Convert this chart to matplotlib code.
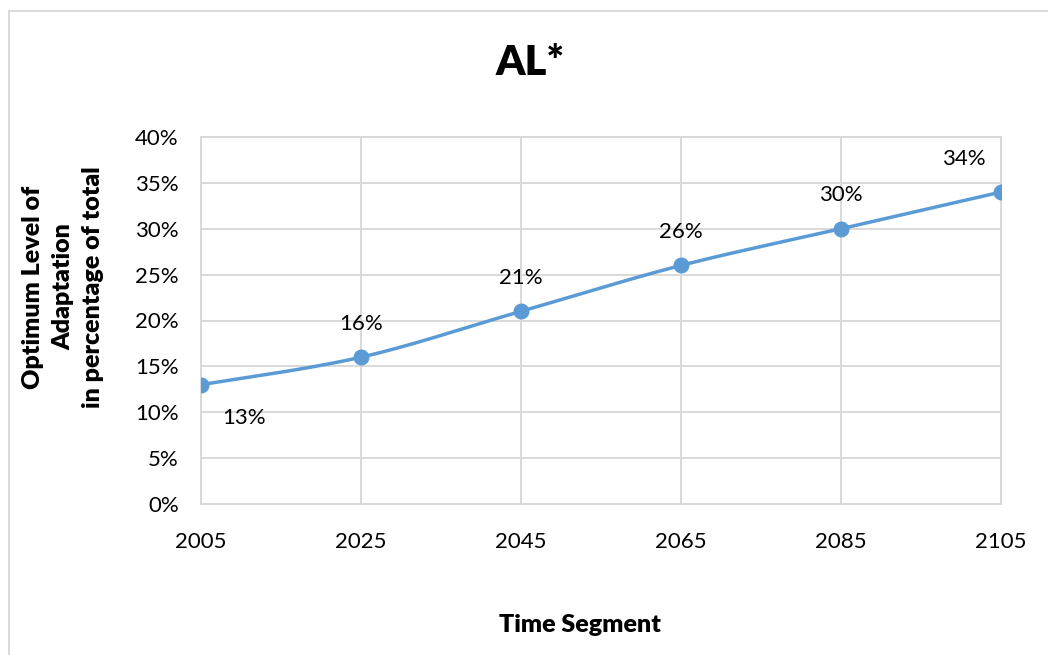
import numpy as np
import matplotlib.pyplot as plt
from matplotlib.patches import Rectangle

plt.rcParams['font.family'] = ['Lato', 'DejaVu Sans']

# chart data
years = [2005, 2025, 2045, 2065, 2085, 2105]
optimum = [0.13, 0.16, 0.21, 0.26, 0.30, 0.34]
labels = ['13%', '16%', '21%', '26%', '30%', '34%']
yticks = [0, 0.05, 0.10, 0.15, 0.20, 0.25, 0.30, 0.35, 0.40]

LINE = '#5B9BD5'
GRID = '#D9D9D9'


def smooth_curve(x, y, n=40):
    # bezier smoothing like a spreadsheet "smoothed line"
    x = np.asarray(x, float)
    y = np.asarray(y, float)
    px, py = [], []
    for i in range(len(x) - 1):
        x0, y0 = (x[i - 1], y[i - 1]) if i > 0 else (x[i], y[i])
        x3, y3 = (x[i + 2], y[i + 2]) if i + 2 < len(x) else (x[i + 1], y[i + 1])
        c1x = x[i] + (x[i + 1] - x0) / 6
        c1y = y[i] + (y[i + 1] - y0) / 6
        c2x = x[i + 1] - (x3 - x[i]) / 6
        c2y = y[i + 1] - (y3 - y[i]) / 6
        t = np.linspace(0, 1, n)
        b0 = (1 - t) ** 3
        b1 = 3 * (1 - t) ** 2 * t
        b2 = 3 * (1 - t) * t ** 2
        b3 = t ** 3
        px.extend(b0 * x[i] + b1 * c1x + b2 * c2x + b3 * x[i + 1])
        py.extend(b0 * y[i] + b1 * c1y + b2 * c2y + b3 * y[i + 1])
    return px, py


W, H = 1048, 655
fig = plt.figure(figsize=(W / 100, H / 100), dpi=100)
ax = fig.add_axes([201 / W, 1 - 504 / H, 800 / W, 367 / H])

sx, sy = smooth_curve(years, optimum)
ax.plot(sx, sy, color=LINE, lw=2.5, zorder=3, solid_capstyle='round')
ax.plot(years, optimum, 'o', color=LINE, ms=10.5, zorder=4)

FS = 16
for i, (x, y, s) in enumerate(zip(years, optimum, labels)):
    if i == 0:
        off = (31, -24)
    elif i == len(years) - 1:
        off = (-27, 24)
    else:
        off = (0, 24)
    ax.annotate(s, (x, y), xytext=off, textcoords='offset points',
                ha='center', va='center', fontsize=FS)

ax.set_xlim(2005, 2105)
ax.set_ylim(0, 0.40)
ax.set_xticks(years)
ax.set_yticks(yticks)
ax.set_yticklabels([f'{int(round(v * 100))}%' for v in yticks])
ax.tick_params(length=0, labelsize=FS)
ax.tick_params(axis='y', pad=16)
ax.tick_params(axis='x', pad=20)
ax.grid(True, color=GRID, lw=1.4)
ax.set_axisbelow(True)
for sp in ax.spines.values():
    sp.set_color(GRID)
    sp.set_linewidth(1.4)

fig.text(530 / W, 1 - 63 / H, 'AL*', ha='center', va='center',
         fontsize=30, fontweight='heavy')
fig.text(580 / W, 1 - 625 / H, 'Time Segment', ha='center', va='center',
         fontsize=18, fontweight='heavy')
fig.text(63 / W, 1 - 287 / H, 'Optimum Level of\nAdaptation\nin percentage of total',
         ha='center', va='center', rotation=90, fontsize=18, fontweight='heavy',
         multialignment='center', linespacing=1.45)

# outer chart border
fig.patches.append(Rectangle((9 / W, -0.05), 1.2, 1 - 11 / H + 0.05,
                             transform=fig.transFigure, fill=False,
                             edgecolor=GRID, lw=1.4))

fig.savefig('out.png', dpi=100)
